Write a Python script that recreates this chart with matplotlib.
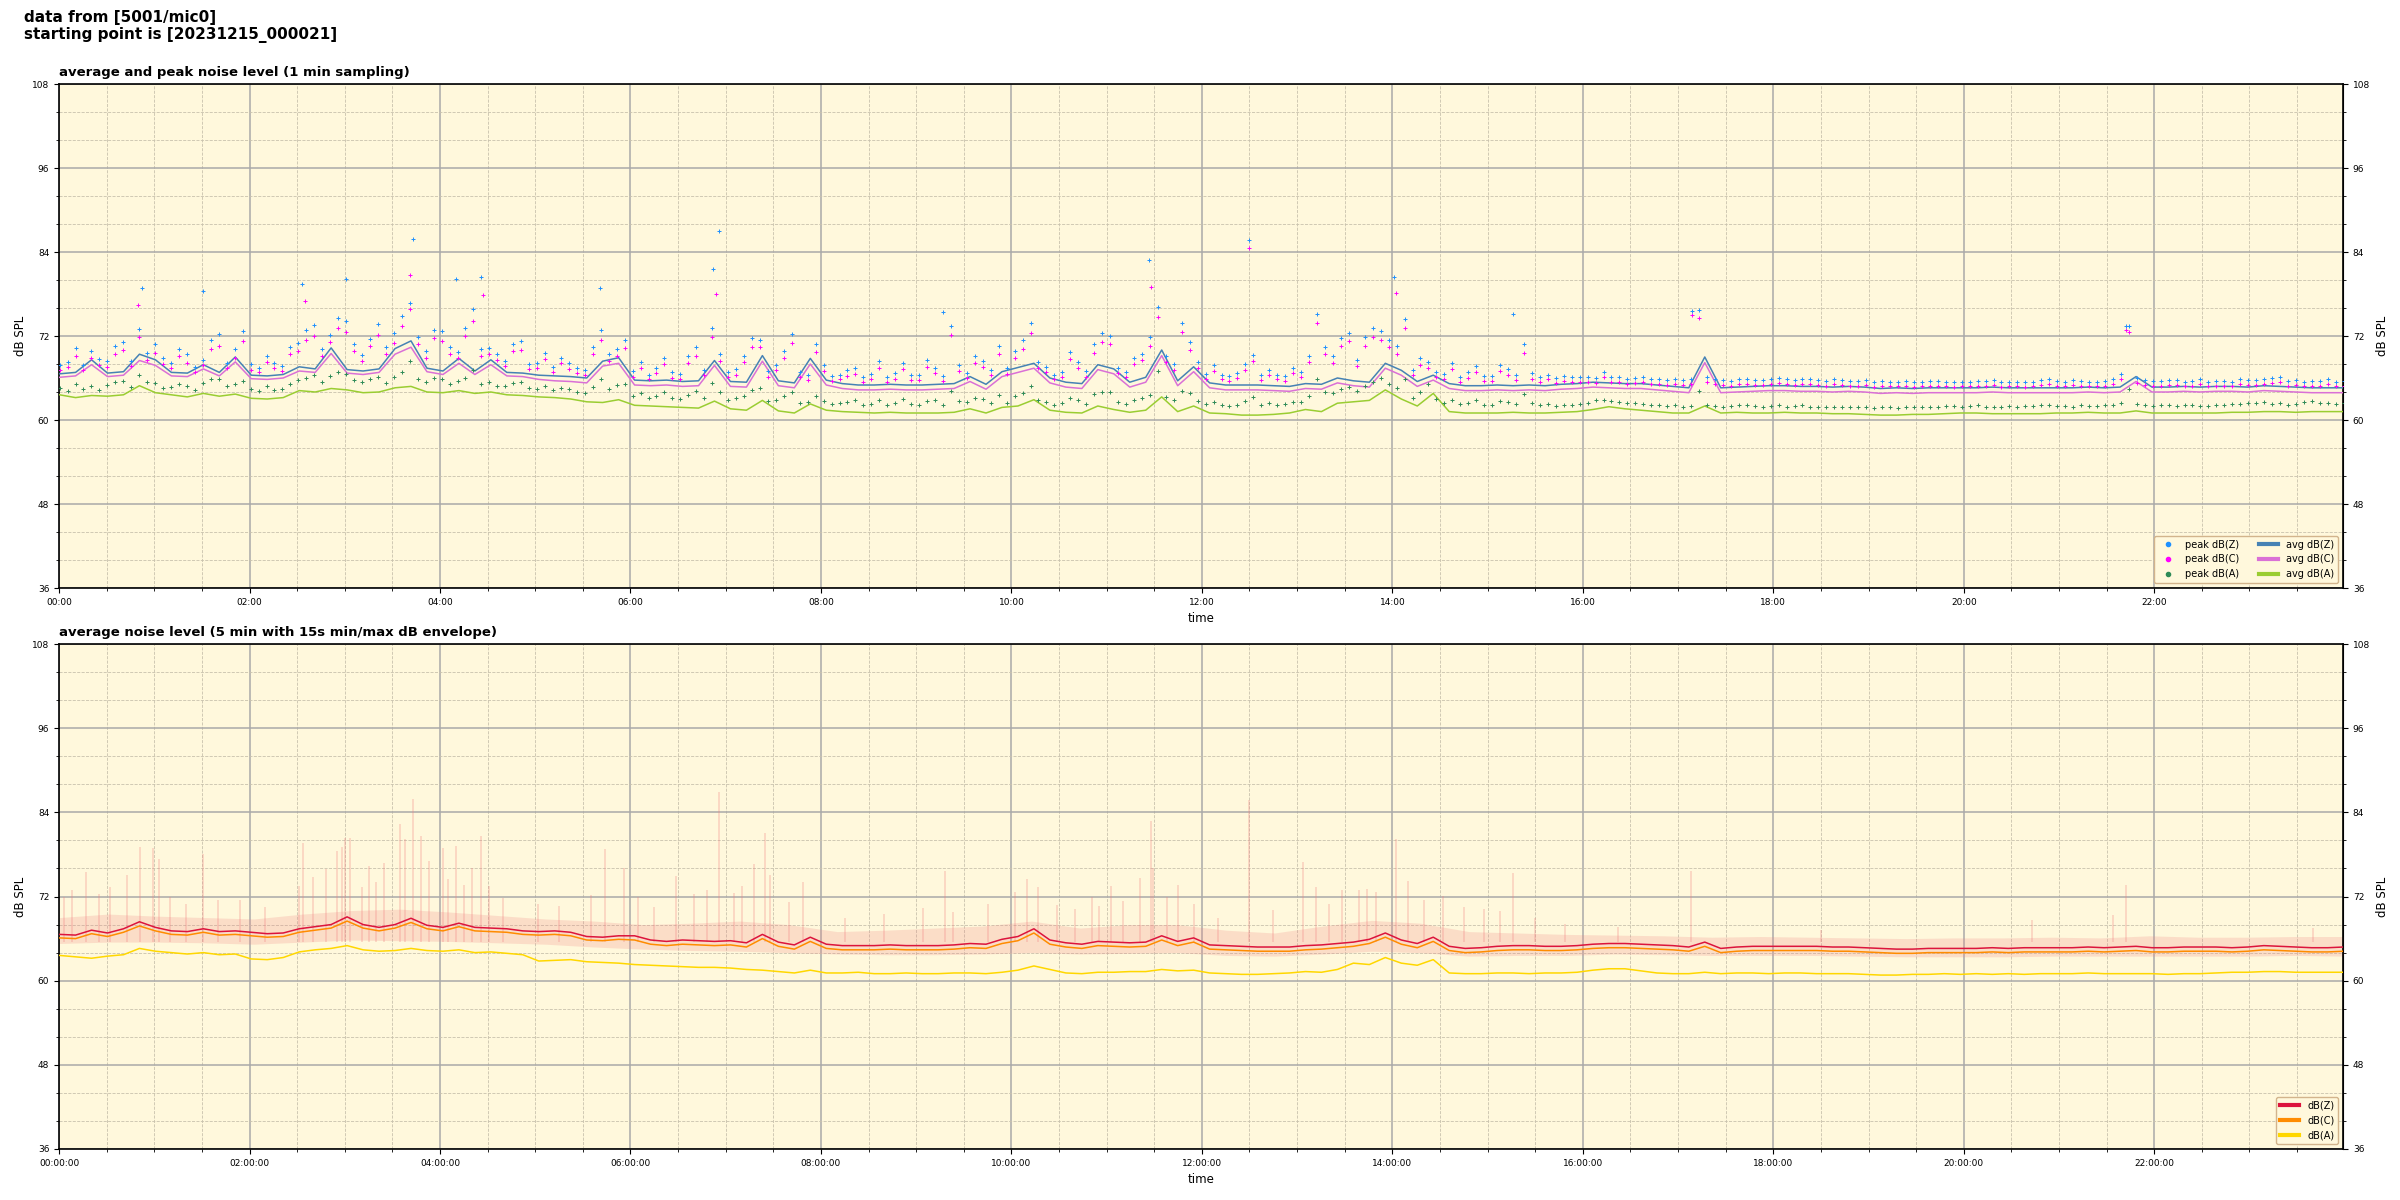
import numpy as np
import pandas as pd
import matplotlib
matplotlib.use('Agg')
import matplotlib.pyplot as plt
import matplotlib.dates as mdates
from matplotlib.lines import Line2D

START = '2023-12-15 00:00:21'

avg_z = [
    66.6, 66.8, 68.6, 66.7, 66.9, 69.4,
    68.6, 66.8, 66.7, 67.9, 66.8, 69.0,
    66.4, 66.3, 66.5, 67.6, 67.3, 70.3,
    67.2, 67.0, 67.3, 70.2, 71.3, 67.4,
    67.0, 68.8, 67.0, 68.6, 66.8, 66.7,
    66.4, 66.3, 66.2, 66.0, 68.4, 68.9,
    65.7, 65.6, 65.7, 65.5, 65.6, 68.5,
    65.5, 65.4, 69.2, 65.6, 65.3, 68.8,
    65.7, 65.2, 65.0, 65.0, 65.1, 65.0,
    65.0, 65.1, 65.2, 66.2, 65.1, 66.9,
    67.5, 68.1, 66.0, 65.4, 65.2, 67.9,
    67.3, 65.4, 66.1, 70.0, 65.6, 67.6,
    65.3, 65.0, 65.0, 65.0, 64.9, 64.8,
    65.2, 65.1, 66.0, 65.6, 65.4, 68.1,
    67.1, 65.5, 66.4, 65.2, 64.9, 64.9,
    65.0, 64.9, 65.0, 64.9, 65.1, 65.2,
    65.4, 65.3, 65.2, 65.2, 65.0, 64.8,
    64.6, 69.0, 64.6, 64.7, 64.8, 64.9,
    64.9, 64.8, 64.8, 64.7, 64.8, 64.7,
    64.5, 64.6, 64.5, 64.6, 64.6, 64.6,
    64.6, 64.7, 64.6, 64.6, 64.6, 64.6,
    64.6, 64.7, 64.6, 64.7, 66.2, 64.7,
    64.7, 64.8, 64.7, 64.8, 64.8, 64.7,
    64.9, 64.8, 64.7, 64.6, 64.6, 64.6,
]
avg_c = [
    66.1, 66.3, 67.9, 66.2, 66.4, 68.5,
    67.8, 66.3, 66.2, 67.3, 66.3, 68.3,
    65.9, 65.8, 66.0, 67.0, 66.8, 69.5,
    66.7, 66.5, 66.8, 69.4, 70.4, 66.9,
    66.5, 68.1, 66.5, 67.9, 66.3, 66.2,
    65.8, 65.6, 65.5, 65.3, 67.7, 68.1,
    65.0, 64.9, 65.0, 64.8, 64.9, 67.8,
    64.8, 64.7, 68.4, 64.9, 64.6, 68.0,
    65.0, 64.5, 64.3, 64.3, 64.4, 64.3,
    64.3, 64.4, 64.5, 65.5, 64.4, 66.2,
    66.8, 67.4, 65.3, 64.7, 64.5, 67.2,
    66.6, 64.7, 65.4, 69.2, 64.9, 66.9,
    64.6, 64.3, 64.3, 64.3, 64.2, 64.1,
    64.5, 64.4, 65.3, 64.9, 64.7, 67.4,
    66.4, 64.8, 65.7, 64.5, 64.2, 64.2,
    64.3, 64.2, 64.3, 64.2, 64.4, 64.5,
    64.7, 64.6, 64.5, 64.5, 64.3, 64.1,
    63.9, 68.2, 63.9, 64.0, 64.1, 64.2,
    64.2, 64.1, 64.1, 64.0, 64.1, 64.0,
    63.8, 63.9, 63.8, 63.9, 63.9, 63.9,
    63.9, 64.0, 63.9, 63.9, 63.9, 63.9,
    63.9, 64.0, 63.9, 64.0, 65.5, 64.0,
    64.0, 64.1, 64.0, 64.1, 64.1, 64.0,
    64.2, 64.1, 64.0, 63.9, 63.9, 63.9,
]
avg_a = [
    63.6, 63.2, 63.5, 63.4, 63.6, 64.9,
    63.9, 63.6, 63.3, 63.8, 63.4, 63.7,
    63.1, 63.0, 63.2, 64.2, 64.0, 64.5,
    64.3, 63.9, 64.0, 64.6, 64.8, 64.0,
    63.9, 64.2, 63.8, 64.0, 63.6, 63.5,
    63.3, 63.2, 63.0, 62.6, 62.5, 62.9,
    62.1, 62.0, 61.9, 61.8, 61.7, 62.7,
    61.6, 61.4, 62.8, 61.3, 61.0, 62.3,
    61.4, 61.2, 61.1, 61.0, 61.1, 61.0,
    61.0, 61.0, 61.1, 61.6, 61.0, 61.8,
    62.0, 62.9, 61.4, 61.1, 61.0, 62.0,
    61.5, 61.1, 61.4, 63.3, 61.2, 62.0,
    61.0, 60.9, 60.7, 60.7, 60.8, 61.0,
    61.5, 61.2, 62.4, 62.6, 62.8, 64.3,
    63.0, 62.0, 63.8, 61.2, 61.0, 61.0,
    61.0, 61.1, 61.0, 61.0, 61.1, 61.2,
    61.5, 61.9, 61.6, 61.4, 61.2, 61.0,
    61.0, 62.0, 61.0, 61.1, 61.0, 61.0,
    61.1, 61.0, 61.0, 60.9, 60.9, 60.8,
    60.7, 60.7, 60.8, 60.8, 60.9, 61.0,
    61.0, 60.9, 60.9, 60.9, 60.9, 61.0,
    61.0, 61.1, 61.0, 61.0, 61.3, 61.0,
    61.0, 61.0, 61.0, 61.0, 61.1, 61.1,
    61.2, 61.2, 61.1, 61.2, 61.2, 61.2,
]
peak_z = [
    67.8, 68.3, 70.3, 67.9, 69.8, 68.7, 68.5, 70.6, 71.2, 68.4, 73.0, 69.6,
    70.9, 68.8, 68.1, 70.2, 69.5, 67.6, 68.6, 71.4, 72.3, 68.2, 70.1, 72.7,
    68.0, 67.4, 69.2, 68.1, 67.7, 70.5, 71.0, 72.8, 73.6, 70.2, 72.2, 74.6,
    74.1, 70.8, 69.3, 71.6, 73.7, 70.4, 72.5, 74.8, 76.7, 71.9, 69.8, 72.9,
    72.7, 70.5, 69.7, 73.2, 75.9, 70.1, 70.3, 69.4, 68.5, 70.9, 71.3, 68.0,
    68.2, 69.6, 67.6, 68.9, 68.1, 67.4, 67.2, 70.5, 72.8, 69.4, 70.1, 71.5,
    67.0, 68.3, 66.5, 67.5, 68.9, 66.8, 66.6, 69.1, 70.4, 67.2, 73.1, 69.5,
    66.8, 67.3, 69.2, 71.7, 71.5, 67.0, 67.8, 69.8, 72.3, 66.9, 66.4, 70.8,
    67.9, 66.3, 66.5, 67.1, 67.4, 66.2, 66.6, 68.4, 66.2, 66.7, 68.2, 66.4,
    66.4, 68.6, 67.5, 66.3, 73.5, 67.9, 66.7, 69.1, 68.5, 67.2, 70.6, 67.4,
    69.9, 71.4, 73.8, 68.3, 67.6, 66.5, 66.9, 69.7, 68.3, 67.0, 70.8, 72.4,
    72.0, 67.5, 66.8, 68.9, 69.5, 71.8, 76.1, 69.2, 68.0, 73.9, 71.2, 68.3,
    66.6, 67.8, 66.5, 66.3, 66.7, 68.0, 69.3, 66.4, 67.2, 66.5, 66.3, 67.5,
    66.8, 69.2, 75.2, 70.4, 69.1, 71.7, 72.5, 68.6, 71.8, 73.1, 72.7, 71.5,
    70.6, 74.5, 67.1, 68.8, 68.3, 66.9, 66.6, 68.1, 66.2, 66.8, 67.7, 66.3,
    66.3, 67.9, 67.3, 66.4, 70.8, 66.7, 66.2, 66.5, 66.0, 66.3, 66.1, 66.2,
    66.2, 66.0, 66.9, 66.1, 66.1, 65.9, 66.0, 66.2, 65.9, 65.8, 65.7, 65.9,
    65.7, 65.8, 75.7, 66.2, 65.9, 65.7, 65.6, 65.8, 65.8, 65.7, 65.7, 65.9,
    66.0, 65.8, 65.7, 65.9, 65.8, 65.7, 65.6, 65.8, 65.7, 65.6, 65.6, 65.7,
    65.4, 65.6, 65.5, 65.5, 65.6, 65.4, 65.5, 65.6, 65.6, 65.5, 65.4, 65.5,
    65.5, 65.6, 65.6, 65.7, 65.4, 65.5, 65.5, 65.4, 65.5, 65.7, 65.8, 65.6,
    65.5, 65.7, 65.6, 65.5, 65.5, 65.6, 65.9, 66.6, 73.4, 66.0, 65.7, 65.6,
    65.6, 65.7, 65.7, 65.5, 65.6, 65.8, 65.5, 65.6, 65.6, 65.5, 65.8, 65.7,
    65.7, 65.9, 66.0, 66.1, 65.6, 65.7, 65.5, 65.6, 65.6, 65.8, 65.5, 65.6,
]
peak_c = [
    67.2, 67.6, 69.1, 67.2, 68.9, 67.9, 67.6, 69.5, 70.0, 67.7, 71.8, 68.6,
    69.6, 68.0, 67.4, 69.1, 68.2, 66.9, 67.9, 70.2, 70.6, 67.5, 68.8, 71.3,
    67.2, 66.8, 68.3, 67.4, 67.0, 69.4, 69.8, 71.5, 72.0, 69.1, 71.1, 73.2,
    72.6, 69.8, 68.5, 70.6, 72.2, 69.5, 71.0, 73.4, 75.8, 70.9, 68.9, 71.7,
    71.3, 69.5, 68.8, 72.0, 74.2, 69.2, 69.4, 68.6, 67.7, 69.8, 70.0, 67.3,
    67.5, 68.7, 66.9, 68.1, 67.3, 66.7, 66.5, 69.4, 71.4, 68.5, 69.2, 70.3,
    66.2, 67.5, 65.8, 66.7, 68.0, 66.0, 65.9, 68.2, 69.2, 66.4, 71.9, 68.5,
    66.1, 66.5, 68.3, 70.5, 70.4, 66.2, 67.1, 68.8, 71.0, 66.1, 65.7, 69.7,
    67.0, 65.6, 65.8, 66.3, 66.6, 65.5, 65.9, 67.5, 65.5, 65.9, 67.3, 65.7,
    65.7, 67.6, 66.7, 65.6, 72.1, 67.0, 66.0, 68.1, 67.6, 66.4, 69.4, 66.6,
    68.9, 70.2, 72.5, 67.4, 66.9, 65.8, 66.2, 68.7, 67.5, 66.2, 69.6, 71.1,
    70.8, 66.7, 66.1, 68.0, 68.6, 70.6, 74.7, 68.3, 67.2, 72.6, 70.0, 67.5,
    65.9, 67.0, 65.8, 65.6, 66.0, 67.2, 68.4, 65.7, 66.5, 65.8, 65.6, 66.7,
    66.1, 68.3, 73.8, 69.4, 68.2, 70.6, 71.3, 67.7, 70.6, 71.9, 71.5, 70.4,
    69.5, 73.2, 66.4, 67.9, 67.5, 66.1, 65.9, 67.3, 65.5, 66.0, 66.9, 65.6,
    65.6, 67.0, 66.5, 65.7, 69.6, 65.9, 65.5, 65.8, 65.3, 65.6, 65.4, 65.5,
    65.5, 65.3, 66.2, 65.4, 65.4, 65.2, 65.3, 65.5, 65.2, 65.1, 65.0, 65.2,
    65.0, 65.1, 74.6, 65.5, 65.2, 65.0, 64.9, 65.1, 65.1, 65.0, 65.0, 65.2,
    65.3, 65.1, 65.0, 65.2, 65.1, 65.0, 64.9, 65.1, 65.0, 64.9, 64.9, 65.0,
    64.7, 64.9, 64.8, 64.8, 64.9, 64.7, 64.8, 64.9, 64.9, 64.8, 64.7, 64.8,
    64.8, 64.9, 64.9, 65.0, 64.7, 64.8, 64.8, 64.7, 64.8, 65.0, 65.1, 64.9,
    64.8, 65.0, 64.9, 64.8, 64.8, 64.9, 65.2, 65.9, 72.6, 65.3, 65.0, 64.9,
    64.9, 65.0, 65.0, 64.8, 64.9, 65.1, 64.8, 64.9, 64.9, 64.8, 65.1, 65.0,
    65.0, 65.2, 65.3, 65.4, 64.9, 65.0, 64.8, 64.9, 64.9, 65.1, 64.8, 64.9,
]
peak_a = [
    64.6, 64.2, 65.2, 64.4, 64.8, 64.3, 65.0, 65.4, 65.6, 64.7, 66.4, 65.5,
    65.3, 64.6, 64.7, 65.1, 64.9, 64.3, 65.3, 65.8, 65.9, 64.8, 65.1, 65.6,
    64.4, 64.1, 64.8, 64.3, 64.5, 65.2, 65.7, 66.0, 66.5, 65.4, 66.3, 66.8,
    66.6, 65.7, 65.4, 65.9, 66.1, 65.3, 66.2, 66.9, 68.5, 65.8, 65.5, 66.0,
    65.8, 65.2, 65.6, 66.0, 67.2, 65.1, 65.4, 64.8, 64.9, 65.3, 65.5, 64.6,
    64.5, 64.8, 64.3, 64.6, 64.4, 64.0, 63.9, 64.7, 65.8, 64.5, 65.0, 65.2,
    63.4, 63.8, 63.1, 63.5, 64.0, 63.2, 63.0, 63.6, 64.1, 63.1, 65.3, 64.0,
    62.8, 63.1, 63.5, 64.3, 64.6, 62.7, 62.9, 63.4, 64.0, 62.5, 62.6, 63.5,
    62.7, 62.3, 62.4, 62.6, 62.8, 62.1, 62.3, 62.9, 62.2, 62.5, 63.0, 62.3,
    62.2, 62.7, 62.8, 62.2, 64.1, 62.7, 62.6, 63.2, 63.0, 62.4, 63.6, 62.5,
    63.5, 63.9, 64.9, 62.8, 62.6, 62.2, 62.4, 63.1, 62.9, 62.3, 63.7, 64.0,
    64.0, 62.6, 62.3, 62.9, 63.2, 63.6, 67.0, 63.3, 62.8, 64.2, 63.8, 62.7,
    62.3, 62.6, 62.1, 62.0, 62.2, 62.7, 63.3, 62.2, 62.4, 62.2, 62.3, 62.6,
    62.6, 63.4, 65.8, 64.0, 63.9, 64.5, 64.7, 64.1, 64.9, 65.4, 66.0, 65.1,
    64.6, 65.9, 63.2, 64.0, 65.1, 63.0, 62.4, 62.8, 62.3, 62.5, 62.9, 62.2,
    62.2, 62.7, 62.6, 62.3, 63.7, 62.4, 62.1, 62.3, 62.0, 62.2, 62.2, 62.3,
    62.5, 62.8, 62.9, 62.7, 62.6, 62.5, 62.4, 62.3, 62.2, 62.1, 62.0, 62.1,
    61.9, 62.0, 64.2, 62.2, 62.0, 61.9, 62.0, 62.1, 62.1, 62.0, 61.9, 62.0,
    62.1, 61.9, 62.0, 62.1, 61.9, 61.8, 61.8, 61.9, 61.9, 61.8, 61.8, 61.9,
    61.7, 61.8, 61.8, 61.7, 61.8, 61.9, 61.9, 61.8, 61.9, 62.0, 62.0, 61.9,
    62.0, 62.1, 61.9, 61.8, 61.9, 62.0, 61.9, 62.0, 62.0, 62.1, 62.1, 62.0,
    62.0, 61.9, 62.1, 62.0, 62.0, 62.1, 62.2, 62.4, 64.4, 62.3, 62.1, 62.0,
    62.1, 62.2, 62.0, 62.1, 62.1, 62.0, 62.0, 62.1, 62.2, 62.3, 62.3, 62.4,
    62.4, 62.6, 62.3, 62.4, 62.2, 62.3, 62.6, 62.7, 62.4, 62.5, 62.3, 62.4,
]
# isolated high peaks
outlier_z_time = ['00:52', '01:31', '02:33', '03:01', '03:43', '04:10', '04:26', '05:41',
                  '06:52', '06:56', '09:17', '11:27', '12:30', '14:01', '15:16', '17:09', '21:42']
outlier_z_val = [78.9, 78.4, 79.5, 80.1, 85.9, 80.1, 80.4, 78.9,
                 81.6, 87.0, 75.5, 82.8, 85.7, 80.4, 75.1, 75.6, 73.4]
outlier_c_time = ['00:50', '02:35', '03:41', '04:27', '06:54', '11:28', '12:30', '14:02', '17:09', '21:42']
outlier_c_val = [76.5, 77.0, 80.7, 77.8, 78.0, 79.0, 84.6, 78.2, 75.0, 72.8]

# 5 min average panel (10 min read-off grid)
env_z = [
    66.6, 66.5, 67.2, 66.8, 67.4, 68.4,
    67.6, 67.1, 67.0, 67.4, 67.0, 67.1,
    66.9, 66.7, 66.8, 67.4, 67.7, 68.0,
    69.1, 68.0, 67.6, 68.0, 68.9, 67.9,
    67.6, 68.2, 67.6, 67.5, 67.4, 67.1,
    67.0, 67.1, 66.9, 66.3, 66.2, 66.4,
    66.4, 65.8, 65.6, 65.8, 65.7, 65.6,
    65.7, 65.4, 66.6, 65.5, 65.1, 66.2,
    65.2, 65.0, 65.0, 65.0, 65.1, 65.0,
    65.0, 65.0, 65.1, 65.3, 65.2, 65.9,
    66.3, 67.4, 65.8, 65.4, 65.2, 65.6,
    65.5, 65.4, 65.5, 66.4, 65.6, 66.1,
    65.1, 65.0, 64.9, 64.8, 64.8, 64.8,
    65.0, 65.1, 65.3, 65.5, 65.9, 66.8,
    65.8, 65.3, 66.2, 64.9, 64.6, 64.7,
    64.9, 65.0, 65.0, 64.9, 64.9, 65.0,
    65.2, 65.3, 65.3, 65.2, 65.1, 65.0,
    64.8, 65.5, 64.6, 64.8, 64.9, 64.9,
    64.9, 64.9, 64.9, 64.8, 64.8, 64.7,
    64.6, 64.5, 64.5, 64.6, 64.6, 64.6,
    64.6, 64.7, 64.6, 64.7, 64.7, 64.7,
    64.7, 64.8, 64.7, 64.8, 64.9, 64.7,
    64.7, 64.8, 64.8, 64.8, 64.7, 64.8,
    65.0, 64.9, 64.8, 64.7, 64.7, 64.8,
]
env_c = [
    66.1, 66.0, 66.7, 66.3, 66.9, 67.8,
    67.1, 66.6, 66.5, 66.9, 66.5, 66.6,
    66.4, 66.2, 66.3, 66.9, 67.2, 67.5,
    68.5, 67.5, 67.1, 67.5, 68.3, 67.4,
    67.1, 67.7, 67.1, 67.0, 66.9, 66.6,
    66.5, 66.6, 66.4, 65.8, 65.7, 65.9,
    65.8, 65.2, 65.0, 65.2, 65.1, 65.0,
    65.1, 64.8, 66.0, 64.9, 64.5, 65.6,
    64.6, 64.4, 64.4, 64.4, 64.5, 64.4,
    64.4, 64.4, 64.5, 64.7, 64.6, 65.3,
    65.7, 66.8, 65.2, 64.8, 64.6, 65.0,
    64.9, 64.8, 64.9, 65.8, 65.0, 65.5,
    64.5, 64.4, 64.3, 64.2, 64.2, 64.2,
    64.4, 64.5, 64.7, 64.9, 65.3, 66.2,
    65.2, 64.7, 65.6, 64.3, 64.0, 64.1,
    64.3, 64.4, 64.4, 64.3, 64.3, 64.4,
    64.6, 64.7, 64.7, 64.6, 64.5, 64.4,
    64.2, 64.9, 64.0, 64.2, 64.3, 64.3,
    64.3, 64.3, 64.3, 64.2, 64.2, 64.1,
    64.0, 63.9, 63.9, 64.0, 64.0, 64.0,
    64.0, 64.1, 64.0, 64.1, 64.1, 64.1,
    64.1, 64.2, 64.1, 64.2, 64.3, 64.1,
    64.1, 64.2, 64.2, 64.2, 64.1, 64.2,
    64.4, 64.3, 64.2, 64.1, 64.1, 64.2,
]
env_a = [
    63.6, 63.4, 63.2, 63.5, 63.7, 64.6,
    64.2, 64.0, 63.8, 64.0, 63.7, 63.8,
    63.1, 63.0, 63.3, 64.1, 64.4, 64.6,
    65.0, 64.4, 64.2, 64.3, 64.6, 64.3,
    64.2, 64.4, 64.0, 64.1, 63.9, 63.7,
    62.8, 62.9, 63.0, 62.7, 62.6, 62.5,
    62.3, 62.2, 62.1, 62.0, 61.9, 61.9,
    61.8, 61.6, 61.5, 61.3, 61.1, 61.5,
    61.1, 61.1, 61.2, 61.0, 61.0, 61.1,
    61.0, 61.0, 61.1, 61.1, 61.0, 61.2,
    61.5, 62.1, 61.6, 61.1, 61.0, 61.2,
    61.2, 61.3, 61.3, 61.6, 61.4, 61.5,
    61.1, 61.0, 60.9, 60.9, 61.0, 61.1,
    61.3, 61.2, 61.6, 62.5, 62.3, 63.3,
    62.5, 62.2, 63.0, 61.1, 61.0, 61.0,
    61.1, 61.1, 61.0, 61.1, 61.1, 61.2,
    61.5, 61.7, 61.7, 61.4, 61.1, 61.0,
    61.0, 61.2, 61.0, 61.1, 61.1, 61.0,
    61.1, 61.1, 61.0, 61.0, 61.0, 60.9,
    60.8, 60.8, 60.9, 60.9, 61.0, 60.9,
    61.0, 60.9, 61.0, 60.9, 61.0, 61.0,
    61.0, 61.1, 61.0, 61.0, 61.0, 61.0,
    60.9, 61.0, 61.0, 61.1, 61.2, 61.2,
    61.3, 61.3, 61.2, 61.2, 61.2, 61.2,
]
# 15 s min/max envelope, half hour read-off
band_hi = [69.0, 69.5, 69.2, 69.0, 68.8, 69.5, 70.0, 70.2, 69.8, 69.3, 68.8, 68.5,
           68.0, 68.2, 68.5, 68.0, 67.0, 67.2, 67.5, 67.8, 68.5, 67.5, 68.0, 68.0,
           67.2, 66.8, 67.8, 68.6, 68.2, 67.0, 66.8, 66.6, 66.5, 66.4, 66.2, 66.3,
           66.2, 66.1, 66.0, 66.1, 66.1, 66.2, 66.1, 66.4, 66.2, 66.2, 66.3, 66.3]
band_lo = [65.3, 65.5, 65.5, 65.4, 65.2, 65.5, 65.8, 65.7, 65.6, 65.4, 65.2, 64.8,
           64.5, 64.3, 64.2, 64.0, 63.8, 63.7, 63.7, 63.8, 64.0, 63.8, 63.9, 64.0,
           63.6, 63.5, 63.8, 64.2, 64.0, 63.5, 63.6, 63.6, 63.8, 63.7, 63.6, 63.6,
           63.6, 63.5, 63.4, 63.4, 63.4, 63.5, 63.5, 63.5, 63.5, 63.5, 63.6, 63.5]
spike_time = ['00:03', '00:08', '00:17', '00:25', '00:32', '00:43', '00:51', '00:59', '01:03',
              '01:10', '01:20', '01:31', '01:40', '01:54', '02:10', '02:31', '02:34', '02:40',
              '02:48', '02:55', '02:58', '03:00', '03:03', '03:11', '03:15', '03:20', '03:25',
              '03:35', '03:38', '03:43', '03:48', '03:53', '04:02', '04:05', '04:10', '04:15',
              '04:20', '04:26', '04:31', '04:40', '05:02', '05:15', '05:35', '05:44', '05:56',
              '06:05', '06:15', '06:29', '06:40', '06:48', '06:56', '07:05', '07:10', '07:18',
              '07:25', '07:28', '07:40', '07:49', '08:15', '08:40', '09:04', '09:18', '09:23',
              '09:45', '10:02', '10:10', '10:17', '10:29', '10:40', '10:51', '10:55', '11:03',
              '11:10', '11:21', '11:28', '11:29', '11:38', '11:45', '11:55', '12:10', '12:30',
              '12:45', '13:04', '13:12', '13:20', '13:28', '13:39', '13:44', '13:50', '14:02',
              '14:10', '14:20', '14:32', '14:45', '14:58', '15:08', '15:16', '15:30', '15:49',
              '16:22', '17:08', '18:30', '20:43', '21:34', '21:42', '23:40']
spike_val = [71.9, 73.0, 75.5, 72.4, 73.3, 75.0, 79.0, 78.9, 77.3,
             72.0, 71.0, 78.0, 71.5, 71.5, 70.5, 73.5, 79.6, 74.8,
             75.9, 78.5, 79.0, 80.4, 80.4, 73.3, 76.3, 74.0, 76.8,
             82.3, 80.2, 85.9, 80.7, 77.1, 78.9, 74.5, 79.2, 73.7,
             76.0, 80.7, 73.5, 71.8, 70.9, 70.6, 72.2, 78.8, 76.1,
             72.0, 70.5, 74.9, 72.3, 73.0, 86.9, 72.5, 73.5, 76.6,
             81.1, 75.1, 71.2, 74.0, 69.0, 69.5, 70.4, 75.7, 69.8,
             71.0, 72.6, 74.5, 73.3, 70.8, 70.2, 71.9, 70.7, 73.5,
             71.4, 74.7, 82.8, 76.1, 72.0, 73.6, 70.9, 69.0, 85.7,
             70.1, 76.9, 73.3, 71.0, 72.9, 72.9, 73.1, 72.6, 80.2,
             74.2, 71.5, 72.1, 70.5, 70.2, 70.0, 75.4, 69.0, 68.1,
             67.6, 75.7, 67.2, 68.6, 69.4, 73.6, 67.5]

t0 = pd.Timestamp(START)
day = pd.Timestamp('2023-12-15')
t_line = t0 + pd.to_timedelta(np.linspace(0, 1439, len(avg_z)), unit='min')
t_peak = t0 + pd.to_timedelta(np.linspace(0, 1439, len(peak_z)), unit='min')
t_band = t0 + pd.to_timedelta(np.linspace(0, 1439, len(band_hi)), unit='min')


def hhmm(lst):
    return day + pd.to_timedelta([s + ':00' for s in lst])


def style(ax, fmt, title):
    ax.set_facecolor('cornsilk')
    ax.set_ylim(36, 108)
    ax.set_xlim(day, day + pd.Timedelta(minutes=1439))
    ax.set_yticks(np.arange(36, 109, 12))
    ax.set_yticks(np.arange(36, 109, 4), minor=True)
    ax.xaxis.set_major_locator(mdates.HourLocator(interval=2))
    ax.xaxis.set_minor_locator(mdates.MinuteLocator(byminute=[0, 30]))
    ax.xaxis.set_major_formatter(mdates.DateFormatter(fmt))
    ax.grid(which='major', color='#a9a9a9', lw=1.1)
    ax.grid(which='minor', color='#c9c2ad', ls='--', lw=0.6)
    ax.set_axisbelow(True)
    ax.tick_params(labelsize=6.5)
    ax.set_xlabel('time', fontsize=8.5)
    ax.set_ylabel('dB SPL', fontsize=8.5)
    ax.set_title(title, loc='left', fontweight='bold', fontsize=9.5)
    for s in ax.spines.values():
        s.set_linewidth(1.2)
    sec = ax.secondary_yaxis('right')
    sec.set_yticks(np.arange(36, 109, 12))
    sec.set_yticks(np.arange(36, 109, 4), minor=True)
    sec.tick_params(labelsize=6.5)
    sec.set_ylabel('dB SPL', fontsize=8.5)


fig = plt.figure(figsize=(24, 12), dpi=100)
fig.text(0.01, 0.992, 'data from [5001/mic0]\nstarting point is [20231215_000021]',
         fontsize=11, fontweight='bold', va='top')

ax1 = fig.add_axes([0.0246, 0.51, 0.9517, 0.42])
style(ax1, '%H:%M', 'average and peak noise level (1 min sampling)')
ax1.plot(t_line, avg_z, color='steelblue', lw=1.1, zorder=3)
ax1.plot(t_line, avg_c, color='orchid', lw=1.1, zorder=3)
ax1.plot(t_line, avg_a, color='yellowgreen', lw=1.1, zorder=3)
ax1.scatter(t_peak, peak_a, marker='+', s=8, lw=0.7, color='seagreen', zorder=4)
ax1.scatter(t_peak, peak_c, marker='+', s=8, lw=0.7, color='magenta', zorder=4)
ax1.scatter(t_peak, peak_z, marker='+', s=8, lw=0.7, color='dodgerblue', zorder=4)
ax1.scatter(hhmm(outlier_c_time), outlier_c_val, marker='+', s=8, lw=0.7, color='magenta', zorder=4)
ax1.scatter(hhmm(outlier_z_time), outlier_z_val, marker='+', s=8, lw=0.7, color='dodgerblue', zorder=4)
handles = [
    Line2D([], [], ls='', marker='o', ms=3, color='dodgerblue', label='peak dB(Z)'),
    Line2D([], [], ls='', marker='o', ms=3, color='magenta', label='peak dB(C)'),
    Line2D([], [], ls='', marker='o', ms=3, color='seagreen', label='peak dB(A)'),
    Line2D([], [], lw=3, color='steelblue', label='avg dB(Z)'),
    Line2D([], [], lw=3, color='orchid', label='avg dB(C)'),
    Line2D([], [], lw=3, color='yellowgreen', label='avg dB(A)'),
]
ax1.legend(handles=handles, ncol=2, loc='lower right', fontsize=7,
           facecolor='cornsilk', edgecolor='tan', framealpha=1)

ax2 = fig.add_axes([0.0246, 0.0425, 0.9517, 0.4208])
style(ax2, '%H:%M:%S', 'average noise level (5 min with 15s min/max dB envelope)')
ax2.fill_between(t_band, band_lo, band_hi, color='lightcoral', alpha=0.22, lw=0, zorder=2)
ax2.vlines(hhmm(spike_time), 65.5, spike_val, color='lightcoral', alpha=0.35, lw=1.1, zorder=2)
ax2.plot(t_line, env_a, color='gold', lw=1.1, zorder=3)
ax2.plot(t_line, env_c, color='darkorange', lw=1.1, zorder=3)
ax2.plot(t_line, env_z, color='crimson', lw=1.1, zorder=3)
h2 = [Line2D([], [], lw=3, color=c, label=l)
      for c, l in [('crimson', 'dB(Z)'), ('darkorange', 'dB(C)'), ('gold', 'dB(A)')]]
ax2.legend(handles=h2, loc='lower right', fontsize=7, facecolor='cornsilk',
           edgecolor='tan', framealpha=1)

fig.savefig('out.png', dpi=100)
